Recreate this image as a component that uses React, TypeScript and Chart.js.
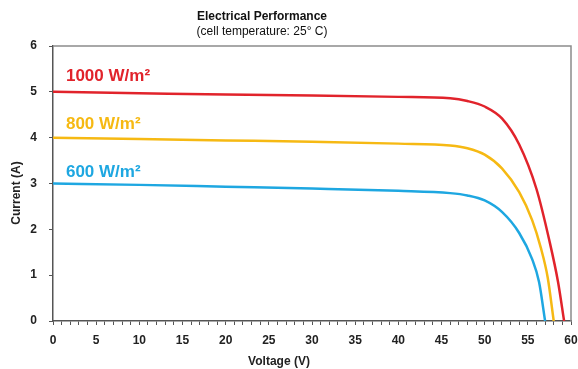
import React, { useEffect, useRef } from "react";
import { Chart, registerables } from "chart.js";

Chart.register(...registerables);

const redVoltage = [0, 10, 20, 30, 40, 46, 48, 50, 52, 54, 56, 57.5, 58.5, 59.2];
const redCurrent = [5.0, 4.97, 4.94, 4.92, 4.89, 4.86, 4.8, 4.68, 4.42, 3.85, 2.88, 1.75, 0.85, 0];
const yellowVoltage = [0, 10, 20, 30, 40, 46, 48, 50, 52, 54, 55.5, 56.5, 57.3, 58.0];
const yellowCurrent = [4.0, 3.97, 3.94, 3.91, 3.87, 3.83, 3.77, 3.63, 3.33, 2.81, 2.2, 1.6, 0.95, 0];
const blueVoltage = [0, 10, 20, 30, 40, 46, 48, 50, 52, 54, 55.5, 56.3, 57.0];
const blueCurrent = [3.0, 2.97, 2.93, 2.89, 2.84, 2.79, 2.74, 2.63, 2.38, 1.92, 1.35, 0.85, 0];

const seriesLabels = ["1000 W/m\u00B2", "800 W/m\u00B2", "600 W/m\u00B2"];
const seriesColors = ["#e1232b", "#f6b913", "#1ea7e1"];
const labelAnchorV = [1.5, 1.5, 1.5];
const labelAnchorI = [5.33, 4.3, 3.24];

const titleText = "Electrical Performance";
const subtitleText = "(cell temperature: 25\u00B0 C)";
const xTitle = "Voltage (V)";
const yTitle = "Current (A)";

const FONT = "'Liberation Sans', Arial, sans-serif";

const toPoints = (xs: number[], ys: number[]) => xs.map((x, i) => ({ x, y: ys[i] }));

const decorPlugin = {
  id: "decor",
  afterDraw(chart: any) {
    const { ctx, chartArea, scales } = chart;
    ctx.save();
    ctx.strokeStyle = "#8c8c8c";
    ctx.lineWidth = 1.5;
    ctx.beginPath();
    ctx.moveTo(chartArea.left, chartArea.top);
    ctx.lineTo(chartArea.right, chartArea.top);
    ctx.lineTo(chartArea.right, chartArea.bottom);
    ctx.stroke();

    ctx.fillStyle = "#111";
    ctx.textAlign = "center";
    ctx.textBaseline = "middle";
    ctx.font = `bold 12px ${FONT}`;
    ctx.fillText(titleText, 262, 17);
    ctx.font = `12px ${FONT}`;
    ctx.fillText(subtitleText, 262, 32);

    ctx.font = `bold 12px ${FONT}`;
    ctx.fillStyle = "#222";
    ctx.fillText(xTitle, 279, 362);
    ctx.save();
    ctx.translate(17, 193);
    ctx.rotate(-Math.PI / 2);
    ctx.fillText(yTitle, 0, 0);
    ctx.restore();

    ctx.textAlign = "left";
    ctx.font = `bold 17px ${FONT}`;
    seriesLabels.forEach((t, i) => {
      ctx.fillStyle = seriesColors[i];
      const px = scales.x.getPixelForValue(labelAnchorV[i]);
      const py = scales.y.getPixelForValue(labelAnchorI[i]);
      ctx.fillText(t, px, py);
    });
    ctx.restore();
  },
};

export default function App() {
  const ref = useRef<HTMLCanvasElement | null>(null);
  useEffect(() => {
    if (!ref.current) return;
    const mk = (xs: number[], ys: number[], c: string) => ({
      data: toPoints(xs, ys),
      borderColor: c,
      backgroundColor: c,
      borderWidth: 2.5,
      pointRadius: 0,
      showLine: true,
      cubicInterpolationMode: "monotone" as const,
      fill: false,
    });
    const chart = new Chart(ref.current, {
      type: "scatter",
      data: {
        datasets: [
          mk(redVoltage, redCurrent, seriesColors[0]),
          mk(yellowVoltage, yellowCurrent, seriesColors[1]),
          mk(blueVoltage, blueCurrent, seriesColors[2]),
        ],
      },
      options: {
        animation: false,
        responsive: false,
        layout: { padding: { top: 46, right: 0, left: 0, bottom: 0 } },
        plugins: { legend: { display: false }, tooltip: { enabled: false }, title: { display: false } },
        scales: {
          x: {
            type: "linear",
            min: 0,
            max: 60,
            afterFit: (s: any) => { s.height = 48; s.paddingRight = 7; },
            border: { display: true, color: "#555", width: 1.5 },
            grid: { drawOnChartArea: false, drawTicks: true, tickLength: 4, color: "#555" },
            ticks: {
              stepSize: 1,
              autoSkip: false,
              maxRotation: 0,
              padding: 8,
              color: "#222",
              font: { family: FONT, size: 12, weight: "bold" },
              callback: (v: any) => (Number(v) % 5 === 0 ? String(v) : ""),
            },
          },
          y: {
            type: "linear",
            min: 0,
            max: 6,
            afterFit: (s: any) => { s.width = 53; },
            border: { display: true, color: "#555", width: 1.5 },
            grid: { drawOnChartArea: false, drawTicks: true, tickLength: 4, color: "#555" },
            ticks: {
              stepSize: 1,
              padding: 12,
              color: "#222",
              font: { family: FONT, size: 12, weight: "bold" },
            },
          },
        },
      },
      plugins: [decorPlugin],
    } as any);
    return () => chart.destroy();
  }, []);
  return (
    <div style={{ position: "absolute", left: 0, top: 0, width: 578, height: 369, background: "#fff" }}>
      <canvas ref={ref} width={578} height={369} />
    </div>
  );
}
